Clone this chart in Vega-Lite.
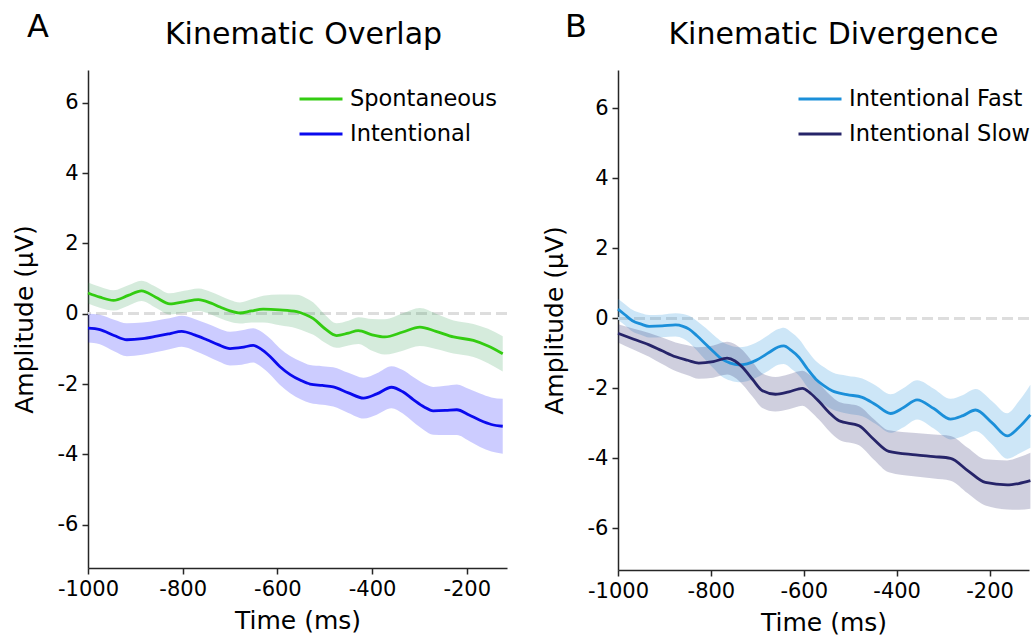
{
  "$schema": "https://vega.github.io/schema/vega-lite/v6.json",
  "background": "white",
  "padding": {"left": 12, "top": 11, "right": 0, "bottom": 0},
  "config": {
    "view": {"stroke": null},
    "font": "DejaVu Sans",
    "axis": {"grid": false, "domainColor": "#262626", "domainWidth": 1.5, "tickColor": "#262626", "tickWidth": 1.5, "tickSize": 6, "labelFontSize": 21, "labelColor": "black", "labelFont": "DejaVu Sans", "titleFont": "DejaVu Sans", "titleFontSize": 25, "titleFontWeight": "normal", "titleColor": "black", "labelPadding": 4, "labelFlush": false},
    "title": {"font": "DejaVu Sans", "fontSize": 30, "fontWeight": "normal", "color": "black"},
    "legend": {"labelFont": "DejaVu Sans", "labelFontSize": 22.5, "labelColor": "black", "labelLimit": 400, "symbolStrokeWidth": 3, "labelOffset": 6, "symbolType": "stroke", "symbolSize": 1849, "rowPadding": -3, "padding": 0}
  },
  "datasets": {
    "A": [
      {"s":"Spontaneous","t":-1000,"m":0.59,"lo":0.29,"hi":0.89},
      {"s":"Spontaneous","t":-975,"m":0.47,"lo":0.17,"hi":0.77},
      {"s":"Spontaneous","t":-946,"m":0.38,"lo":0.09,"hi":0.67},
      {"s":"Spontaneous","t":-915,"m":0.52,"lo":0.23,"hi":0.81},
      {"s":"Spontaneous","t":-887,"m":0.65,"lo":0.36,"hi":0.94},
      {"s":"Spontaneous","t":-857,"m":0.47,"lo":0.17,"hi":0.77},
      {"s":"Spontaneous","t":-827,"m":0.28,"lo":-0.02,"hi":0.58},
      {"s":"Spontaneous","t":-797,"m":0.34,"lo":0.03,"hi":0.65},
      {"s":"Spontaneous","t":-767,"m":0.40,"lo":0.08,"hi":0.72},
      {"s":"Spontaneous","t":-740,"m":0.30,"lo":-0.02,"hi":0.62},
      {"s":"Spontaneous","t":-721,"m":0.19,"lo":-0.13,"hi":0.51},
      {"s":"Spontaneous","t":-700,"m":0.08,"lo":-0.23,"hi":0.39},
      {"s":"Spontaneous","t":-679,"m":0.02,"lo":-0.28,"hi":0.32},
      {"s":"Spontaneous","t":-655,"m":0.08,"lo":-0.25,"hi":0.41},
      {"s":"Spontaneous","t":-630,"m":0.13,"lo":-0.25,"hi":0.51},
      {"s":"Spontaneous","t":-595,"m":0.11,"lo":-0.33,"hi":0.55},
      {"s":"Spontaneous","t":-559,"m":0.06,"lo":-0.42,"hi":0.54},
      {"s":"Spontaneous","t":-540,"m":-0.03,"lo":-0.51,"hi":0.45},
      {"s":"Spontaneous","t":-524,"m":-0.14,"lo":-0.60,"hi":0.32},
      {"s":"Spontaneous","t":-500,"m":-0.42,"lo":-0.82,"hi":-0.02},
      {"s":"Spontaneous","t":-475,"m":-0.62,"lo":-0.97,"hi":-0.27},
      {"s":"Spontaneous","t":-450,"m":-0.55,"lo":-0.90,"hi":-0.20},
      {"s":"Spontaneous","t":-429,"m":-0.48,"lo":-0.86,"hi":-0.10},
      {"s":"Spontaneous","t":-400,"m":-0.60,"lo":-1.05,"hi":-0.15},
      {"s":"Spontaneous","t":-373,"m":-0.66,"lo":-1.16,"hi":-0.16},
      {"s":"Spontaneous","t":-335,"m":-0.52,"lo":-1.05,"hi":0.01},
      {"s":"Spontaneous","t":-299,"m":-0.38,"lo":-0.92,"hi":0.16},
      {"s":"Spontaneous","t":-265,"m":-0.50,"lo":-1.00,"hi":0.00},
      {"s":"Spontaneous","t":-228,"m":-0.66,"lo":-1.13,"hi":-0.19},
      {"s":"Spontaneous","t":-186,"m":-0.76,"lo":-1.23,"hi":-0.29},
      {"s":"Spontaneous","t":-155,"m":-0.92,"lo":-1.41,"hi":-0.43},
      {"s":"Spontaneous","t":-124,"m":-1.14,"lo":-1.64,"hi":-0.64},
      {"s":"Intentional","t":-1000,"m":-0.41,"lo":-0.82,"hi":0.00},
      {"s":"Intentional","t":-975,"m":-0.45,"lo":-0.87,"hi":-0.03},
      {"s":"Intentional","t":-945,"m":-0.62,"lo":-1.07,"hi":-0.17},
      {"s":"Intentional","t":-918,"m":-0.74,"lo":-1.21,"hi":-0.27},
      {"s":"Intentional","t":-885,"m":-0.71,"lo":-1.17,"hi":-0.25},
      {"s":"Intentional","t":-855,"m":-0.64,"lo":-1.09,"hi":-0.19},
      {"s":"Intentional","t":-828,"m":-0.57,"lo":-1.01,"hi":-0.13},
      {"s":"Intentional","t":-802,"m":-0.50,"lo":-0.94,"hi":-0.06},
      {"s":"Intentional","t":-775,"m":-0.60,"lo":-1.05,"hi":-0.15},
      {"s":"Intentional","t":-749,"m":-0.74,"lo":-1.20,"hi":-0.28},
      {"s":"Intentional","t":-725,"m":-0.88,"lo":-1.35,"hi":-0.41},
      {"s":"Intentional","t":-700,"m":-0.99,"lo":-1.47,"hi":-0.51},
      {"s":"Intentional","t":-675,"m":-0.96,"lo":-1.45,"hi":-0.47},
      {"s":"Intentional","t":-651,"m":-0.90,"lo":-1.39,"hi":-0.41},
      {"s":"Intentional","t":-635,"m":-1.00,"lo":-1.50,"hi":-0.50},
      {"s":"Intentional","t":-616,"m":-1.21,"lo":-1.72,"hi":-0.70},
      {"s":"Intentional","t":-595,"m":-1.50,"lo":-2.02,"hi":-0.98},
      {"s":"Intentional","t":-573,"m":-1.73,"lo":-2.26,"hi":-1.20},
      {"s":"Intentional","t":-550,"m":-1.90,"lo":-2.44,"hi":-1.36},
      {"s":"Intentional","t":-531,"m":-2.00,"lo":-2.54,"hi":-1.46},
      {"s":"Intentional","t":-505,"m":-2.04,"lo":-2.59,"hi":-1.49},
      {"s":"Intentional","t":-482,"m":-2.08,"lo":-2.64,"hi":-1.52},
      {"s":"Intentional","t":-450,"m":-2.25,"lo":-2.82,"hi":-1.68},
      {"s":"Intentional","t":-418,"m":-2.40,"lo":-2.98,"hi":-1.82},
      {"s":"Intentional","t":-390,"m":-2.28,"lo":-2.87,"hi":-1.69},
      {"s":"Intentional","t":-359,"m":-2.09,"lo":-2.69,"hi":-1.49},
      {"s":"Intentional","t":-335,"m":-2.22,"lo":-2.84,"hi":-1.60},
      {"s":"Intentional","t":-313,"m":-2.44,"lo":-3.08,"hi":-1.80},
      {"s":"Intentional","t":-290,"m":-2.65,"lo":-3.31,"hi":-1.99},
      {"s":"Intentional","t":-271,"m":-2.76,"lo":-3.44,"hi":-2.08},
      {"s":"Intentional","t":-245,"m":-2.75,"lo":-3.45,"hi":-2.05},
      {"s":"Intentional","t":-221,"m":-2.73,"lo":-3.45,"hi":-2.01},
      {"s":"Intentional","t":-195,"m":-2.88,"lo":-3.62,"hi":-2.14},
      {"s":"Intentional","t":-172,"m":-3.03,"lo":-3.79,"hi":-2.27},
      {"s":"Intentional","t":-148,"m":-3.15,"lo":-3.92,"hi":-2.38},
      {"s":"Intentional","t":-124,"m":-3.20,"lo":-3.98,"hi":-2.42}
    ],
    "B": [
      {"s":"Intentional Fast","t":-1000,"m":0.26,"lo":-0.04,"hi":0.56},
      {"s":"Intentional Fast","t":-985,"m":0.10,"lo":-0.20,"hi":0.40},
      {"s":"Intentional Fast","t":-969,"m":-0.07,"lo":-0.38,"hi":0.24},
      {"s":"Intentional Fast","t":-950,"m":-0.17,"lo":-0.48,"hi":0.14},
      {"s":"Intentional Fast","t":-933,"m":-0.23,"lo":-0.55,"hi":0.09},
      {"s":"Intentional Fast","t":-905,"m":-0.22,"lo":-0.54,"hi":0.10},
      {"s":"Intentional Fast","t":-876,"m":-0.19,"lo":-0.52,"hi":0.14},
      {"s":"Intentional Fast","t":-860,"m":-0.23,"lo":-0.58,"hi":0.12},
      {"s":"Intentional Fast","t":-847,"m":-0.31,"lo":-0.69,"hi":0.07},
      {"s":"Intentional Fast","t":-830,"m":-0.50,"lo":-0.92,"hi":-0.08},
      {"s":"Intentional Fast","t":-811,"m":-0.74,"lo":-1.20,"hi":-0.28},
      {"s":"Intentional Fast","t":-793,"m":-0.97,"lo":-1.45,"hi":-0.49},
      {"s":"Intentional Fast","t":-776,"m":-1.17,"lo":-1.67,"hi":-0.67},
      {"s":"Intentional Fast","t":-758,"m":-1.28,"lo":-1.78,"hi":-0.78},
      {"s":"Intentional Fast","t":-740,"m":-1.33,"lo":-1.83,"hi":-0.83},
      {"s":"Intentional Fast","t":-722,"m":-1.30,"lo":-1.80,"hi":-0.80},
      {"s":"Intentional Fast","t":-704,"m":-1.21,"lo":-1.71,"hi":-0.71},
      {"s":"Intentional Fast","t":-675,"m":-0.98,"lo":-1.49,"hi":-0.47},
      {"s":"Intentional Fast","t":-655,"m":-0.82,"lo":-1.33,"hi":-0.31},
      {"s":"Intentional Fast","t":-643,"m":-0.79,"lo":-1.31,"hi":-0.27},
      {"s":"Intentional Fast","t":-627,"m":-0.92,"lo":-1.44,"hi":-0.40},
      {"s":"Intentional Fast","t":-610,"m":-1.12,"lo":-1.64,"hi":-0.60},
      {"s":"Intentional Fast","t":-592,"m":-1.45,"lo":-1.97,"hi":-0.93},
      {"s":"Intentional Fast","t":-574,"m":-1.74,"lo":-2.26,"hi":-1.22},
      {"s":"Intentional Fast","t":-556,"m":-1.93,"lo":-2.46,"hi":-1.40},
      {"s":"Intentional Fast","t":-539,"m":-2.07,"lo":-2.60,"hi":-1.54},
      {"s":"Intentional Fast","t":-507,"m":-2.18,"lo":-2.72,"hi":-1.64},
      {"s":"Intentional Fast","t":-474,"m":-2.26,"lo":-2.80,"hi":-1.72},
      {"s":"Intentional Fast","t":-445,"m":-2.47,"lo":-3.02,"hi":-1.92},
      {"s":"Intentional Fast","t":-413,"m":-2.72,"lo":-3.27,"hi":-2.17},
      {"s":"Intentional Fast","t":-385,"m":-2.55,"lo":-3.11,"hi":-1.99},
      {"s":"Intentional Fast","t":-356,"m":-2.33,"lo":-2.89,"hi":-1.77},
      {"s":"Intentional Fast","t":-320,"m":-2.58,"lo":-3.15,"hi":-2.01},
      {"s":"Intentional Fast","t":-284,"m":-2.88,"lo":-3.46,"hi":-2.30},
      {"s":"Intentional Fast","t":-257,"m":-2.78,"lo":-3.37,"hi":-2.19},
      {"s":"Intentional Fast","t":-230,"m":-2.62,"lo":-3.22,"hi":-2.02},
      {"s":"Intentional Fast","t":-195,"m":-2.98,"lo":-3.60,"hi":-2.36},
      {"s":"Intentional Fast","t":-162,"m":-3.36,"lo":-4.01,"hi":-2.71},
      {"s":"Intentional Fast","t":-137,"m":-3.12,"lo":-3.87,"hi":-2.37},
      {"s":"Intentional Fast","t":-112,"m":-2.76,"lo":-3.70,"hi":-1.90},
      {"s":"Intentional Slow","t":-1000,"m":-0.43,"lo":-0.69,"hi":-0.17},
      {"s":"Intentional Slow","t":-966,"m":-0.60,"lo":-0.90,"hi":-0.30},
      {"s":"Intentional Slow","t":-933,"m":-0.76,"lo":-1.10,"hi":-0.42},
      {"s":"Intentional Slow","t":-905,"m":-0.93,"lo":-1.31,"hi":-0.55},
      {"s":"Intentional Slow","t":-876,"m":-1.10,"lo":-1.51,"hi":-0.69},
      {"s":"Intentional Slow","t":-850,"m":-1.20,"lo":-1.63,"hi":-0.77},
      {"s":"Intentional Slow","t":-826,"m":-1.28,"lo":-1.73,"hi":-0.83},
      {"s":"Intentional Slow","t":-795,"m":-1.24,"lo":-1.70,"hi":-0.78},
      {"s":"Intentional Slow","t":-765,"m":-1.14,"lo":-1.61,"hi":-0.67},
      {"s":"Intentional Slow","t":-748,"m":-1.22,"lo":-1.70,"hi":-0.74},
      {"s":"Intentional Slow","t":-732,"m":-1.40,"lo":-1.89,"hi":-0.91},
      {"s":"Intentional Slow","t":-710,"m":-1.75,"lo":-2.24,"hi":-1.26},
      {"s":"Intentional Slow","t":-689,"m":-2.07,"lo":-2.56,"hi":-1.58},
      {"s":"Intentional Slow","t":-661,"m":-2.17,"lo":-2.66,"hi":-1.68},
      {"s":"Intentional Slow","t":-632,"m":-2.10,"lo":-2.60,"hi":-1.60},
      {"s":"Intentional Slow","t":-603,"m":-2.00,"lo":-2.50,"hi":-1.50},
      {"s":"Intentional Slow","t":-585,"m":-2.15,"lo":-2.66,"hi":-1.64},
      {"s":"Intentional Slow","t":-567,"m":-2.38,"lo":-2.90,"hi":-1.86},
      {"s":"Intentional Slow","t":-545,"m":-2.70,"lo":-3.23,"hi":-2.17},
      {"s":"Intentional Slow","t":-524,"m":-2.93,"lo":-3.47,"hi":-2.39},
      {"s":"Intentional Slow","t":-481,"m":-3.07,"lo":-3.63,"hi":-2.51},
      {"s":"Intentional Slow","t":-450,"m":-3.45,"lo":-4.03,"hi":-2.87},
      {"s":"Intentional Slow","t":-417,"m":-3.80,"lo":-4.40,"hi":-3.20},
      {"s":"Intentional Slow","t":-359,"m":-3.90,"lo":-4.52,"hi":-3.28},
      {"s":"Intentional Slow","t":-320,"m":-3.95,"lo":-4.58,"hi":-3.32},
      {"s":"Intentional Slow","t":-284,"m":-4.00,"lo":-4.64,"hi":-3.36},
      {"s":"Intentional Slow","t":-247,"m":-4.35,"lo":-5.00,"hi":-3.70},
      {"s":"Intentional Slow","t":-209,"m":-4.69,"lo":-5.35,"hi":-4.03},
      {"s":"Intentional Slow","t":-162,"m":-4.76,"lo":-5.46,"hi":-4.06},
      {"s":"Intentional Slow","t":-137,"m":-4.72,"lo":-5.47,"hi":-3.97},
      {"s":"Intentional Slow","t":-112,"m":-4.64,"lo":-5.44,"hi":-3.84}
    ]
  },
  "resolve": {"scale": {"color": "independent", "fill": "independent", "x": "independent", "y": "independent"}},
  "spacing": 33,
  "hconcat": [
    {
      "title": {"text": "A", "anchor": "start", "frame": "bounds", "dx": 15, "dy": 28, "fontSize": 32},
      "vconcat": [
        {
          "width": 419,
          "height": 498,
          "title": {"text": "Kinematic Overlap", "dx": 6, "offset": 20},
          "data": {"name": "A"},
          "layer": [
            {
              "mark": {"type": "rule", "strokeDash": [11, 5], "strokeWidth": 2.5, "color": "#dddddd"},
              "encoding": {"y": {"datum": 0, "type": "quantitative", "scale": {"domain": [-7.23, 6.93], "nice": false, "zero": false}}}
            },
            {
              "mark": {"type": "area", "interpolate": "monotone", "opacity": 0.2},
              "encoding": {
                "x": {"field": "t", "type": "quantitative", "scale": {"domain": [-1000, -115], "nice": false, "zero": false}, "axis": {"values": [-1000, -800, -600, -400, -200], "labelExpr": "'' + datum.value", "title": "Time (ms)", "titlePadding": 9}},
                "y": {"field": "lo", "type": "quantitative", "axis": {"values": [-6, -4, -2, 0, 2, 4, 6], "labelExpr": "'' + datum.value", "title": "Amplitude (µV)", "titlePadding": 20}},
                "y2": {"field": "hi"},
                "fill": {"field": "s", "type": "nominal", "scale": {"domain": ["Intentional", "Spontaneous"], "range": ["#0000ff", "#2e9d50"]}, "legend": null}
              }
            },
            {
              "mark": {"type": "line", "interpolate": "monotone", "strokeWidth": 2.8},
              "encoding": {
                "x": {"field": "t", "type": "quantitative"},
                "y": {"field": "m", "type": "quantitative"},
                "color": {"field": "s", "type": "nominal", "scale": {"domain": ["Spontaneous", "Intentional"], "range": ["#33cc11", "#0a0aee"]}, "legend": {"title": null, "orient": "none", "legendX": 210, "legendY": 6}}
              }
            }
          ]
        }
      ]
    },
    {
      "title": {"text": "B", "anchor": "start", "frame": "bounds", "dx": 23, "dy": 28, "fontSize": 32},
      "vconcat": [
        {
          "width": 411,
          "height": 500,
          "title": {"text": "Kinematic Divergence", "dx": 10, "offset": 20},
          "data": {"name": "B"},
          "layer": [
            {
              "mark": {"type": "rule", "strokeDash": [11, 5], "strokeWidth": 2.5, "color": "#dddddd"},
              "encoding": {"y": {"datum": 0, "type": "quantitative", "scale": {"domain": [-7.19, 7.09], "nice": false, "zero": false}}}
            },
            {
              "mark": {"type": "area", "interpolate": "monotone", "opacity": 0.22},
              "encoding": {
                "x": {"field": "t", "type": "quantitative", "scale": {"domain": [-1000, -115], "nice": false, "zero": false}, "axis": {"values": [-1000, -800, -600, -400, -200], "labelExpr": "'' + datum.value", "title": "Time (ms)", "titlePadding": 9}},
                "y": {"field": "lo", "type": "quantitative", "axis": {"values": [-6, -4, -2, 0, 2, 4, 6], "labelExpr": "'' + datum.value", "title": "Amplitude (µV)", "titlePadding": 20}},
                "y2": {"field": "hi"},
                "fill": {"field": "s", "type": "nominal", "scale": {"domain": ["Intentional Slow", "Intentional Fast"], "range": ["#262469", "#1b8fd9"]}, "legend": null}
              }
            },
            {
              "mark": {"type": "line", "interpolate": "monotone", "strokeWidth": 2.8},
              "encoding": {
                "x": {"field": "t", "type": "quantitative"},
                "y": {"field": "m", "type": "quantitative"},
                "color": {"field": "s", "type": "nominal", "scale": {"domain": ["Intentional Fast", "Intentional Slow"], "range": ["#1b8fd9", "#262469"]}, "legend": {"title": null, "orient": "none", "legendX": 179, "legendY": 6}}
              }
            }
          ]
        }
      ]
    }
  ]
}
